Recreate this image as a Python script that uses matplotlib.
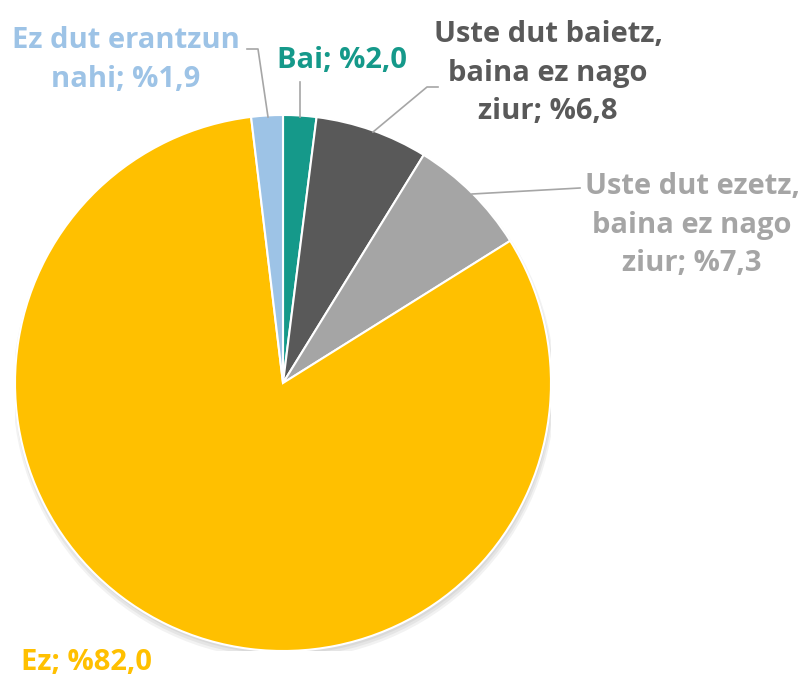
import matplotlib.pyplot as plt
from matplotlib.patches import Circle

labels = ['Bai; %2,0', 'Uste dut baietz,\nbaina ez nago\nziur; %6,8',
          'Uste dut ezetz,\nbaina ez nago\nziur; %7,3', 'Ez; %82,0',
          'Ez dut erantzun\nnahi; %1,9']
values = [2.0, 6.8, 7.3, 82.0, 1.9]
colors = ['#15998A', '#595959', '#A5A5A5', '#FFC000', '#9DC3E6']

W, H = 805, 679
cx, cy, R = 283, 383, 268

def d(px, py):
    # pixel position -> data units (radius = 1)
    return (px - cx) / R, (cy - py) / R

fig = plt.figure(figsize=(W / 100, H / 100), dpi=100)
ax = fig.add_axes([(cx - R) / W, (H - cy - R) / H, 2 * R / W, 2 * R / H])
ax.set_xlim(-1, 1)
ax.set_ylim(-1, 1)
ax.axis('off')

# soft shadow
for i, a in enumerate([0.05, 0.05, 0.05]):
    ax.add_patch(Circle((0.004, -0.012 - 0.004 * i), 1.0 + 0.006 * i, color='black', alpha=a, lw=0, zorder=0))

ax.pie(values, colors=colors, startangle=90, counterclock=False, radius=1,
       wedgeprops=dict(edgecolor='white', linewidth=1.5), frame=False)
ax.set_xlim(-1, 1)
ax.set_ylim(-1, 1)
ax.set_aspect('auto')

font = dict(family='Open Sans', fontweight='bold', fontsize=21, ha='center', va='center',
            linespacing=1.45, clip_on=False)
text_pos = [(342, 60), (548, 73), (692, 225), (86, 662), (126, 60)]
for lab, col, (px, py) in zip(labels, colors, text_pos):
    ax.text(*d(px, py), lab, color=col, **font)

leaders = [
    [(300, 82), (300, 117)],
    [(438, 87), (427, 87), (373, 132)],
    [(580, 188), (472, 194)],
    [(247, 49), (258, 49), (268, 117)],
]
for pts in leaders:
    xs, ys = zip(*[d(px, py) for px, py in pts])
    ax.plot(xs, ys, color='#A6A6A6', lw=1.2, clip_on=False, zorder=5)

fig.savefig('out.png', dpi=100)
